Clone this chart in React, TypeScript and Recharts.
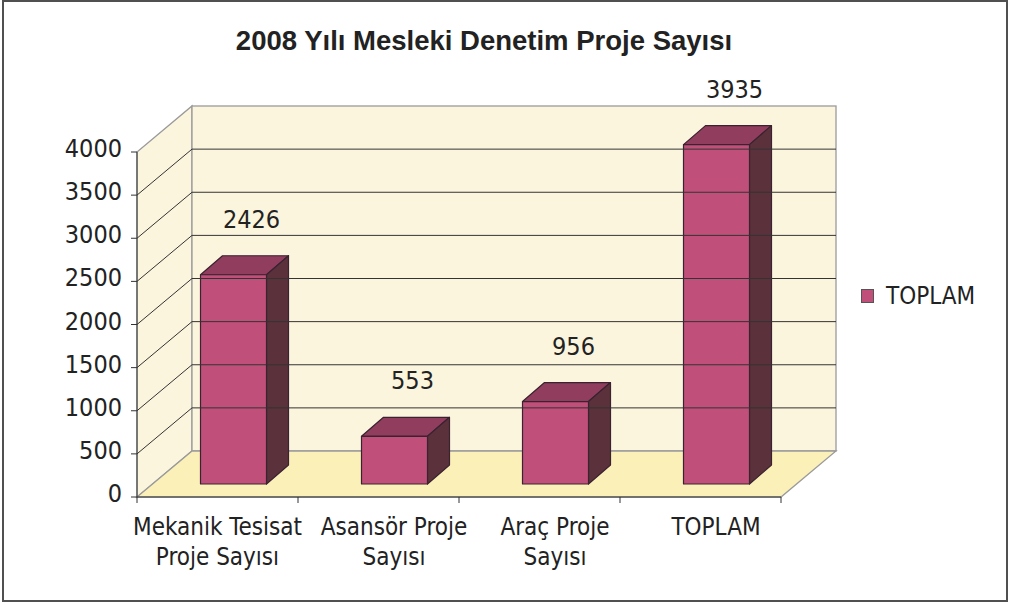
import React from 'react'
import {
  Bar,
  BarChart,
  LabelList,
  Legend,
  ReferenceArea,
  ReferenceLine,
  XAxis,
  YAxis,
} from 'recharts'

const CATEGORIES = [
  'Mekanik Tesisat\nProje Sayısı',
  'Asansör Proje\nSayısı',
  'Araç Proje\nSayısı',
  'TOPLAM',
]
const TOPLAM = [2426, 553, 956, 3935]
const Y_TICKS = [0, 500, 1000, 1500, 2000, 2500, 3000, 3500, 4000]
const SERIES_NAME = 'TOPLAM'
const TITLE = '2008 Yılı Mesleki Denetim Proje Sayısı'

const data = CATEGORIES.map((name, i) => ({ name, [SERIES_NAME]: TOPLAM[i] }))

// layout
const W = 1010
const H = 603
const PLOT_LEFT = 137
const PLOT_RIGHT = 781
const PLOT_TOP = 152
const PLOT_BOTTOM = 497
const Y_AXIS_W = 70
const X_AXIS_H = 80
const LEGEND_W = 150
const HALF_BAND = (PLOT_RIGHT - PLOT_LEFT) / CATEGORIES.length / 2

// 3d offsets
const WALL_DX = 55
const WALL_DY = 46
const BAR_OX = 15.5
const BAR_OY = -13
const BAR_DX = 22
const BAR_DY = 19

const FONT = "'DejaVu Sans Condensed', 'DejaVu Sans', sans-serif"
const TEXT = '#222222'
const WALL = '#FCF5DE'
const FLOOR = '#FAF0B8'
const EDGE = '#9a9a9a'
const FRONT = '#C0507A'
const TOP = '#913D5E'
const SIDE = '#5B323B'
const BAR_EDGE = '#3B2230'

const Walls = (p: any) => {
  const { x, y, width, height } = p
  const b = y + height
  return (
    <g>
      <polygon
        points={`${x},${b} ${x},${y} ${x + WALL_DX},${y - WALL_DY} ${x + WALL_DX},${b - WALL_DY}`}
        fill={WALL}
        stroke={EDGE}
        strokeWidth={1.3}
      />
      <rect
        x={x + WALL_DX}
        y={y - WALL_DY}
        width={width}
        height={height}
        fill={WALL}
        stroke={EDGE}
        strokeWidth={1.3}
      />
      <polygon
        points={`${x},${b} ${x + width},${b} ${x + width + WALL_DX},${b - WALL_DY} ${x + WALL_DX},${b - WALL_DY}`}
        fill={FLOOR}
        stroke={EDGE}
        strokeWidth={1.3}
      />
    </g>
  )
}

// back-wall gridline plus the diagonal on the side wall
const GridLine = (p: any) => {
  const { x1, y1, x2 } = p
  return (
    <g>
      <line
        x1={x1 + WALL_DX}
        y1={y1 - WALL_DY}
        x2={x2 + WALL_DX}
        y2={y1 - WALL_DY}
        stroke="#333"
        strokeWidth={1}
      />
      <line x1={x1} y1={y1} x2={x1 + WALL_DX} y2={y1 - WALL_DY} stroke="#333" strokeWidth={1} />
    </g>
  )
}

const Bar3D = (p: any) => {
  const { x, y, width, height } = p
  const fx = x + BAR_OX
  const fy = y + BAR_OY
  const r = fx + width
  const b = fy + height
  return (
    <g stroke={BAR_EDGE} strokeWidth={1.2} strokeLinejoin="round">
      <polygon
        points={`${fx},${fy} ${r},${fy} ${r + BAR_DX},${fy - BAR_DY} ${fx + BAR_DX},${fy - BAR_DY}`}
        fill={TOP}
      />
      <polygon
        points={`${r},${fy} ${r + BAR_DX},${fy - BAR_DY} ${r + BAR_DX},${b - BAR_DY} ${r},${b}`}
        fill={SIDE}
      />
      <rect x={fx} y={fy} width={width} height={height} fill={FRONT} />
    </g>
  )
}

const ValueLabel = (p: any) => {
  const { x, y, width, value } = p
  return (
    <text
      x={x + width / 2 + BAR_OX + 18}
      y={y + BAR_OY - 47}
      textAnchor="middle"
      fontFamily={FONT}
      fontSize={25}
      fill={TEXT}
    >
      {value}
    </text>
  )
}

const YTick = (p: any) => {
  const { x, y, payload } = p
  return (
    <text x={x} y={y + 5} textAnchor="end" fontFamily={FONT} fontSize={25} fill={TEXT}>
      {payload.value}
    </text>
  )
}

const XTick = (p: any) => {
  const { x, y, payload, index } = p
  const axisY = y - 6
  const lines = String(payload.value).split('\n')
  // labels sit under the bar front face; the first one stays on its band to keep clear of its neighbour
  const cx = index === 0 ? x : x + BAR_OX
  return (
    <g>
      <line x1={x - HALF_BAND} y1={axisY} x2={x - HALF_BAND} y2={axisY + 6} stroke="#333" />
      {index === CATEGORIES.length - 1 && (
        <line x1={x + HALF_BAND} y1={axisY} x2={x + HALF_BAND} y2={axisY + 6} stroke="#333" />
      )}
      <text x={cx} textAnchor="middle" fontFamily={FONT} fontSize={24} fill={TEXT}>
        {lines.map((l, i) => (
          <tspan key={i} x={cx} y={axisY + 38 + i * 30}>
            {l}
          </tspan>
        ))}
      </text>
    </g>
  )
}

const LegendContent = (p: any) => {
  const items = p.payload || []
  return (
    <div>
      {items.map((it: any) => (
        <div key={it.value} style={{ display: 'flex', alignItems: 'center', height: 24 }}>
          <span
            style={{
              width: 13,
              height: 14,
              background: FRONT,
              border: '1px solid #555',
              boxSizing: 'border-box',
              display: 'inline-block',
            }}
          />
          <span
            style={{
              marginLeft: 12,
              fontFamily: FONT,
              fontSize: 24,
              lineHeight: '24px',
              color: TEXT,
            }}
          >
            {it.value}
          </span>
        </div>
      ))}
    </div>
  )
}

export default function App() {
  return (
    <div style={{ position: 'absolute', left: 0, top: 0, width: W, height: H, background: '#fff' }}>
      <div
        style={{
          position: 'absolute',
          left: 2,
          top: 0,
          width: 1006,
          height: 602,
          border: '2px solid #505050',
          boxSizing: 'border-box',
        }}
      />
      <div
        style={{
          position: 'absolute',
          left: 0,
          width: 968,
          top: 26.7,
          textAlign: 'center',
          fontFamily: "'Liberation Sans', Arial, sans-serif",
          fontWeight: 'bold',
          fontSize: 27.5,
          lineHeight: 1,
          color: TEXT,
        }}
      >
        {TITLE}
      </div>
      <div style={{ position: 'absolute', left: 0, top: 0 }}>
        <BarChart
          width={W}
          height={H}
          data={data}
          barSize={66}
          margin={{
            top: PLOT_TOP,
            bottom: H - PLOT_BOTTOM - X_AXIS_H,
            left: PLOT_LEFT - Y_AXIS_W,
            right: W - PLOT_RIGHT - LEGEND_W,
          }}
        >
          <ReferenceArea y1={0} y2={4000} shape={Walls} ifOverflow="visible" />
          {Y_TICKS.slice(1, -1).map((v) => (
            <ReferenceLine key={v} y={v} shape={GridLine} />
          ))}
          <XAxis
            dataKey="name"
            height={X_AXIS_H}
            interval={0}
            tickLine={false}
            tickSize={6}
            tickMargin={0}
            axisLine={{ stroke: '#333' }}
            tick={XTick}
          />
          <YAxis
            width={Y_AXIS_W}
            domain={[0, 4000]}
            ticks={Y_TICKS}
            interval={0}
            tickSize={6}
            tickMargin={9}
            tickLine={{ stroke: '#333' }}
            axisLine={{ stroke: '#333' }}
            tick={YTick}
          />
          <Legend
            layout="vertical"
            align="right"
            verticalAlign="middle"
            width={LEGEND_W}
            wrapperStyle={{ left: 861, top: 284, right: 'auto' }}
            content={LegendContent}
          />
          <Bar
            dataKey={SERIES_NAME}
            name={SERIES_NAME}
            fill={FRONT}
            shape={Bar3D}
            isAnimationActive={false}
          >
            <LabelList dataKey={SERIES_NAME} content={ValueLabel} />
          </Bar>
        </BarChart>
      </div>
    </div>
  )
}
